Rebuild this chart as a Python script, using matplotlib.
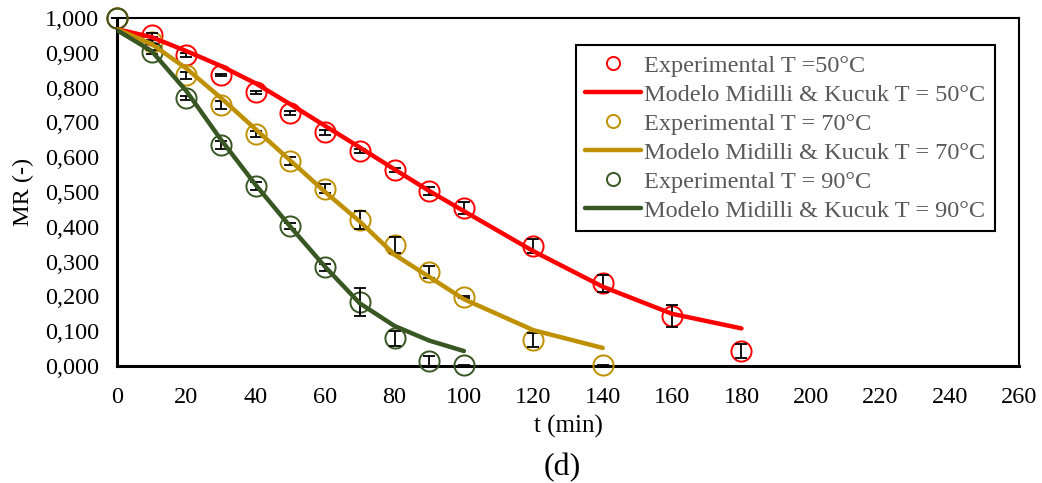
import matplotlib.pyplot as plt

plt.rcParams['font.family'] = ['Liberation Serif', 'DejaVu Serif']

# experimental data (t in min, MR)
t50 = [0, 10, 20, 30, 40, 50, 60, 70, 80, 90, 100, 120, 140, 160, 180]
mr50 = [1.000, 0.951, 0.894, 0.836, 0.787, 0.727, 0.672, 0.618, 0.563, 0.503, 0.454, 0.345, 0.238, 0.144, 0.043]
err50 = [0.0, 0.006, 0.005, 0.004, 0.004, 0.005, 0.007, 0.006, 0.006, 0.012, 0.018, 0.019, 0.024, 0.031, 0.019]

t70 = [0, 10, 20, 30, 40, 50, 60, 70, 80, 90, 100, 120, 140]
mr70 = [1.000, 0.931, 0.836, 0.750, 0.667, 0.589, 0.509, 0.420, 0.348, 0.270, 0.197, 0.075, 0.002]
err70 = [0.0, 0.006, 0.010, 0.012, 0.008, 0.012, 0.013, 0.025, 0.022, 0.017, 0.003, 0.019, 0.002]

t90 = [0, 10, 20, 30, 40, 50, 60, 70, 80, 90, 100]
mr90 = [1.000, 0.902, 0.770, 0.635, 0.517, 0.402, 0.284, 0.184, 0.080, 0.014, 0.002]
err90 = [0.0, 0.005, 0.006, 0.012, 0.012, 0.008, 0.010, 0.041, 0.022, 0.014, 0.002]

# Midilli & Kucuk model curves
m50 = [0.968, 0.945, 0.905, 0.862, 0.812, 0.752, 0.690, 0.628, 0.565, 0.503, 0.445, 0.330, 0.228, 0.150, 0.108]
m70 = [0.968, 0.925, 0.855, 0.770, 0.680, 0.590, 0.500, 0.415, 0.320, 0.256, 0.192, 0.103, 0.052]
m90 = [0.965, 0.905, 0.790, 0.650, 0.520, 0.400, 0.285, 0.180, 0.115, 0.073, 0.043]

red = '#FF0000'
gold = '#BF9000'
green = '#385723'

fig = plt.figure(figsize=(10.42, 4.83), dpi=100)
ax = fig.add_axes([117 / 1042, 117 / 483, 902 / 1042, 348 / 483])

series = [
    (t50, mr50, err50, m50, red, 'Experimental T =50°C', 'Modelo Midilli & Kucuk T = 50°C'),
    (t70, mr70, err70, m70, gold, 'Experimental T = 70°C', 'Modelo Midilli & Kucuk T = 70°C'),
    (t90, mr90, err90, m90, green, 'Experimental T = 90°C', 'Modelo Midilli & Kucuk T = 90°C'),
]

for t, mr, err, mod, c, lab_e, lab_m in series:
    ax.plot(t, mr, 'o', ms=14.5, mfc='none', mec=c, mew=1.4, label=lab_e,
            zorder=3, clip_on=False)
    ax.errorbar(t, mr, yerr=err, fmt='none', ecolor='black', elinewidth=1.3,
                capsize=4, capthick=1.3, zorder=4, clip_on=False)
    ax.plot(t, mod, '-', color=c, lw=3.2, solid_capstyle='round', label=lab_m, zorder=5)

ax.set_xlim(0, 260)
ax.set_ylim(0, 1.0)
ax.set_xticks(range(0, 261, 20))
ax.set_yticks([i / 10 for i in range(11)])
ax.set_yticklabels(['{:.3f}'.format(i / 10).replace('.', ',') for i in range(11)])
ax.tick_params(length=0, labelsize=17.5)
ax.tick_params(axis='y', pad=13)
ax.tick_params(axis='x', pad=15)

for s in ['left', 'bottom']:
    ax.spines[s].set_linewidth(2.2)
for s in ['top', 'right']:
    ax.spines[s].set_linewidth(1.5)

ax.set_ylabel('MR (-)', fontsize=17.5, labelpad=8)
ax.set_xlabel('t (min)', fontsize=18, labelpad=5)
fig.text(562 / 1042, 1 - 468 / 483, '(d)', fontsize=23, ha='center', va='center')

leg = ax.legend(loc='upper right', bbox_to_anchor=(0.973, 0.922), borderaxespad=0,
                fontsize=17.5, markerscale=0.65, handlelength=2.3, handletextpad=0.1,
                labelspacing=0.285, borderpad=0.4, fancybox=False, framealpha=1)
leg.get_frame().set_edgecolor('black')
leg.get_frame().set_linewidth(1.5)
for txt in leg.get_texts():
    txt.set_color('#595959')

fig.savefig('out.png', dpi=100)
